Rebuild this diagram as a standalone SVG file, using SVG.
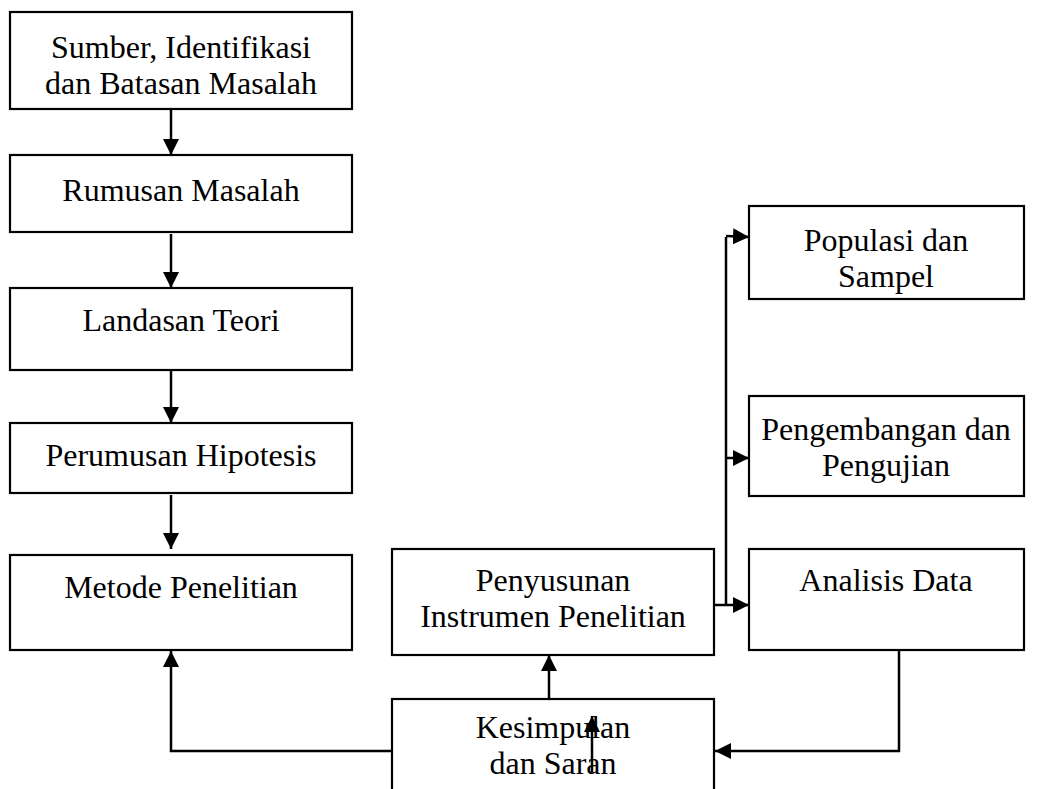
<svg xmlns="http://www.w3.org/2000/svg" width="1048" height="789" viewBox="0 0 1048 789">
<style>
.box{fill:#fff;stroke:#000;stroke-width:2.2}
.t{font-family:"Liberation Serif","Times New Roman",serif;font-size:32px;fill:#000;text-anchor:middle}
.c{fill:none;stroke:#000;stroke-width:2.5}
.a{marker-end:url(#arr)}
</style>
<defs>
<marker id="arr" markerUnits="userSpaceOnUse" markerWidth="18" markerHeight="18" refX="16" refY="8" orient="auto">
<path d="M0,0 L16,8 L0,16 z" fill="#000"/>
</marker>
</defs>
<rect width="1048" height="789" fill="#fff"/>
<g id="n1"><rect class="box" x="10" y="12" width="342" height="97"/><text class="t" x="181" y="58">Sumber, Identifikasi</text><text class="t" x="181" y="94">dan Batasan Masalah</text></g>
<g id="n2"><rect class="box" x="10" y="155" width="342" height="77"/><text class="t" x="181" y="201">Rumusan Masalah</text></g>
<g id="n3"><rect class="box" x="10" y="288" width="342" height="82"/><text class="t" x="181" y="331">Landasan Teori</text></g>
<g id="n4"><rect class="box" x="10" y="423" width="342" height="70"/><text class="t" x="181" y="466">Perumusan Hipotesis</text></g>
<g id="n5"><rect class="box" x="10" y="555" width="342" height="95"/><text class="t" x="181" y="598">Metode Penelitian</text></g>
<g id="n6"><rect class="box" x="749" y="206" width="275" height="93"/><text class="t" x="886" y="251">Populasi dan</text><text class="t" x="886" y="287">Sampel</text></g>
<g id="n7"><rect class="box" x="749" y="396" width="275" height="100"/><text class="t" x="886" y="440">Pengembangan dan</text><text class="t" x="886" y="476">Pengujian</text></g>
<g id="n8"><rect class="box" x="749" y="549" width="275" height="101"/><text class="t" x="886" y="591">Analisis Data</text></g>
<g id="n9"><rect class="box" x="392" y="549" width="322" height="106"/><text class="t" x="553" y="591">Penyusunan</text><text class="t" x="553" y="627">Instrumen Penelitian</text></g>
<g id="n10"><rect class="box" x="392" y="699" width="322" height="110"/><text class="t" x="553" y="738">Kesimpulan</text><text class="t" x="553" y="774">dan Saran</text></g>
<g id="connectors">
<line class="c a" x1="171" y1="109" x2="171" y2="155"/>
<line class="c a" x1="171" y1="234" x2="171" y2="288"/>
<line class="c a" x1="171" y1="370" x2="171" y2="423"/>
<line class="c a" x1="171" y1="495" x2="171" y2="549"/>
<path class="c a" d="M392,751 L171,751 L171,651"/>
<line class="c a" x1="549" y1="699" x2="549" y2="655"/>
<line class="c a" x1="592" y1="772" x2="592" y2="716"/>
<path class="c" d="M726,237 L726,605"/>
<line class="c a" x1="726" y1="236" x2="749" y2="237"/>
<line class="c a" x1="726" y1="458" x2="749" y2="458"/>
<line class="c a" x1="714" y1="605" x2="749" y2="605"/>
<path class="c a" d="M899,650 L899,751 L715,751"/>
</g>
</svg>
